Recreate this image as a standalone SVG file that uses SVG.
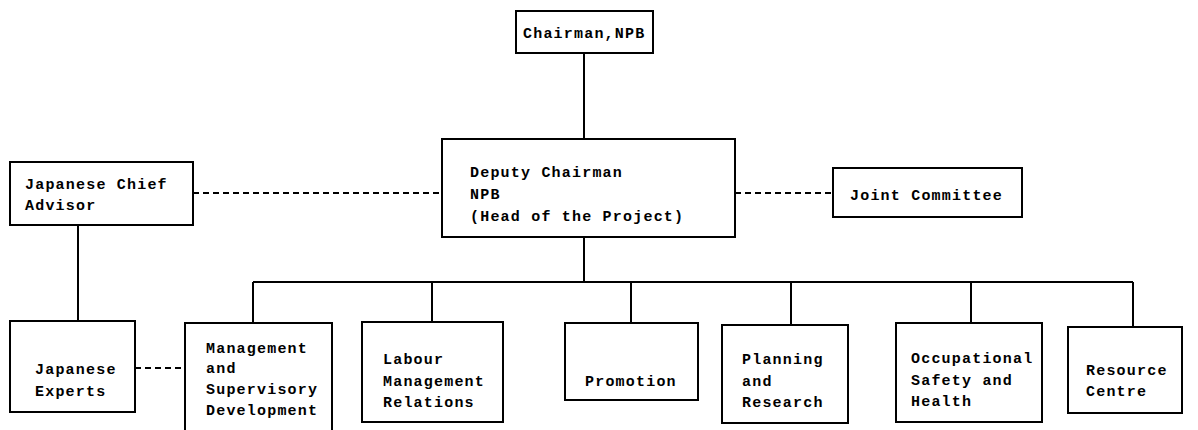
<svg xmlns="http://www.w3.org/2000/svg" width="1198" height="430" viewBox="0 0 1198 430">
<style>
.box{fill:#fff;stroke:#000;stroke-width:2}
.ln{fill:none;stroke:#000;stroke-width:2}
.dash{fill:none;stroke:#000;stroke-width:2;stroke-dasharray:6 4}
text{font-family:"Liberation Mono","DejaVu Sans Mono",monospace;font-size:15px;font-weight:bold;letter-spacing:1.2px;fill:#000}
</style>
<rect width="1198" height="430" fill="#fff"/>
<g id="connectors">
<line class="ln" x1="584" y1="53" x2="584" y2="139"/>
<line class="ln" x1="584" y1="237" x2="584" y2="282"/>
<line class="ln" x1="253" y1="282" x2="1133" y2="282"/>
<line class="ln" x1="253" y1="282" x2="253" y2="323"/>
<line class="ln" x1="432" y1="282" x2="432" y2="322"/>
<line class="ln" x1="631" y1="282" x2="631" y2="323"/>
<line class="ln" x1="791" y1="282" x2="791" y2="325"/>
<line class="ln" x1="971" y1="282" x2="971" y2="323"/>
<line class="ln" x1="1133" y1="282" x2="1133" y2="327"/>
<line class="ln" x1="78" y1="225" x2="78" y2="321"/>
<line class="dash" x1="193" y1="193" x2="442" y2="193"/>
<line class="dash" x1="735" y1="193" x2="833" y2="193"/>
<line class="dash" x1="135" y1="368" x2="185" y2="368"/>
</g>
<g id="chairman">
<rect class="box" x="516" y="11" width="137" height="42"/>
<text x="523" y="38">Chairman,NPB</text>
</g>
<g id="deputy">
<rect class="box" x="442" y="139" width="293" height="98"/>
<text x="470" y="177">Deputy Chairman</text>
<text x="470" y="199">NPB</text>
<text x="470" y="221">(Head of the Project)</text>
</g>
<g id="advisor">
<rect class="box" x="10" y="162" width="183" height="63"/>
<text x="25" y="189">Japanese Chief</text>
<text x="25" y="210">Advisor</text>
</g>
<g id="joint">
<rect class="box" x="833" y="168" width="189" height="49"/>
<text x="850" y="200">Joint Committee</text>
</g>
<g id="experts">
<rect class="box" x="10" y="321" width="125" height="91"/>
<text x="35" y="374">Japanese</text>
<text x="35" y="396">Experts</text>
</g>
<g id="management">
<rect class="box" x="185" y="323" width="147" height="112"/>
<text x="206" y="353">Management</text>
<text x="206" y="373">and</text>
<text x="206" y="394">Supervisory</text>
<text x="206" y="415">Development</text>
</g>
<g id="labour">
<rect class="box" x="362" y="322" width="141" height="100"/>
<text x="383" y="364">Labour</text>
<text x="383" y="386">Management</text>
<text x="383" y="407">Relations</text>
</g>
<g id="promotion">
<rect class="box" x="565" y="323" width="133" height="77"/>
<text x="585" y="386">Promotion</text>
</g>
<g id="planning">
<rect class="box" x="722" y="325" width="126" height="98"/>
<text x="742" y="364">Planning</text>
<text x="742" y="386">and</text>
<text x="742" y="407">Research</text>
</g>
<g id="occupational">
<rect class="box" x="896" y="323" width="146" height="99"/>
<text x="911" y="363">Occupational</text>
<text x="911" y="385">Safety and</text>
<text x="911" y="406">Health</text>
</g>
<g id="resource">
<rect class="box" x="1068" y="327" width="114" height="86"/>
<text x="1086" y="375">Resource</text>
<text x="1086" y="396">Centre</text>
</g>
</svg>
